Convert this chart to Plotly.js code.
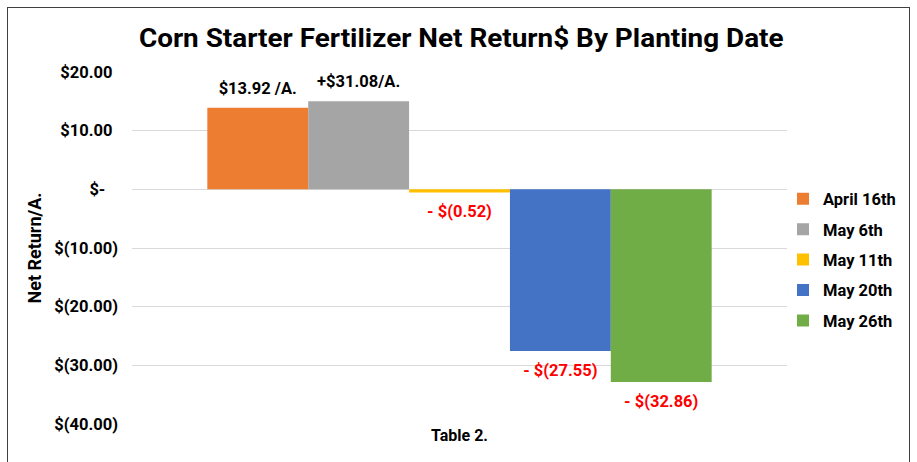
<!DOCTYPE html>
<html>
<head>
<meta charset="utf-8">
<script src="https://cdn.plot.ly/plotly-3.0.1.min.js"></script>
<style>
html,body{margin:0;padding:0;background:#fff;}
#wrap{position:relative;width:917px;height:462px;overflow:hidden;}
#chart{width:917px;height:462px;}
#frame{position:absolute;left:7px;top:7px;width:901px;height:470px;border:1px solid #404040;pointer-events:none;}
</style>
</head>
<body>
<div id="wrap"><div id="chart"></div><div id="frame"></div></div>
<script>
const series = ['April 16th', 'May 6th', 'May 11th', 'May 20th', 'May 26th'];
const values = [13.92, 15.0, -0.52, -27.55, -32.86];
const barLabels = ['$13.92 /A.', '+$31.08/A.', '- $(0.52)', '- $(27.55)', '- $(32.86)'];
const labelColors = ['#000000', '#000000', '#ff0000', '#ff0000', '#ff0000'];
const colors = ['#ed7d31', '#a5a5a5', '#ffc000', '#4472c4', '#70ad47'];
const tickVals = [20, 10, 0, -10, -20, -30, -40];
const tickText = ['$20.00\u2004', '$10.00\u2004', '$-\u2002\u2005', '$(10.00)', '$(20.00)', '$(30.00)', '$(40.00)'];

const traces = series.map((name, i) => ({
  type: 'bar',
  name: name,
  x: [''],
  y: [values[i]],
  text: [barLabels[i]],
  textposition: 'outside',
  cliponaxis: false,
  textfont: {family: 'Roboto', size: 16.5, color: labelColors[i], weight: 700},
  marker: {color: colors[i]},
  legendgroup: name,
  hoverinfo: 'none'
}));

const layout = {
  width: 917, height: 462,
  margin: {l: 132, r: 130, t: 72, b: 38},
  paper_bgcolor: '#ffffff', plot_bgcolor: '#ffffff',
  barmode: 'group', bargap: 0.23, bargroupgap: 0,
  showlegend: true,
  title: {text: 'Corn Starter Fertilizer Net Return$ By Planting Date',
          font: {family: 'Roboto', size: 25, color: '#000', weight: 700},
          x: 0.503, xanchor: 'center', y: 0.918, yanchor: 'middle'},
  font: {family: 'Roboto', color: '#000'},
  xaxis: {showticklabels: false, showgrid: false, zeroline: false, showline: false,
          title: {text: 'Table 2.', standoff: 5, font: {family: 'Roboto', size: 16, weight: 700, color: '#000'}}},
  yaxis: {range: [-40, 20], tickvals: tickVals, ticktext: tickText, showgrid: true, gridcolor: '#d9d9d9', gridwidth: 1,
          zeroline: true, zerolinecolor: '#d9d9d9', zerolinewidth: 1, showline: false, ticks: '', ticklen: 0,
          ticklabelstandoff: 13,
          tickfont: {family: 'Roboto', size: 16.5, weight: 700, color: '#000'},
          title: {text: 'Net Return/A.', standoff: 8, font: {family: 'Roboto', size: 18, weight: 700, color: '#000'}}},
  legend: {x: 0.9939, xanchor: 'left', y: 0.466, yanchor: 'middle', traceorder: 'grouped', tracegroupgap: 6,
           font: {family: 'Roboto', size: 16.5, weight: 700, color: '#000'}, bgcolor: 'rgba(0,0,0,0)', itemwidth: 30}
};

Plotly.newPlot('chart', traces, layout, {displayModeBar: false, staticPlot: true}).then(gd => {
  // condense the title horizontally to match the narrow face of the original
  const t = gd.querySelector('.gtitle');
  if (t) {
    const bb = t.getBBox();
    const s = 645 / bb.width;
    const cx = bb.x + bb.width / 2;
    t.setAttribute('transform', `translate(${cx},0) scale(${s},1) translate(${-cx},0)`);
  }
  // push bar labels a little further from the bar ends
  gd.querySelectorAll('.trace.bars').forEach((tr, i) => {
    tr.querySelectorAll('text.bartext').forEach(tx => {
      const dy = values[i] >= 0 ? -7 : 7;
      const prev = tx.getAttribute('transform') || '';
      tx.setAttribute('transform', `translate(0,${dy}) ` + prev);
    });
  });
});
</script>
</body>
</html>
